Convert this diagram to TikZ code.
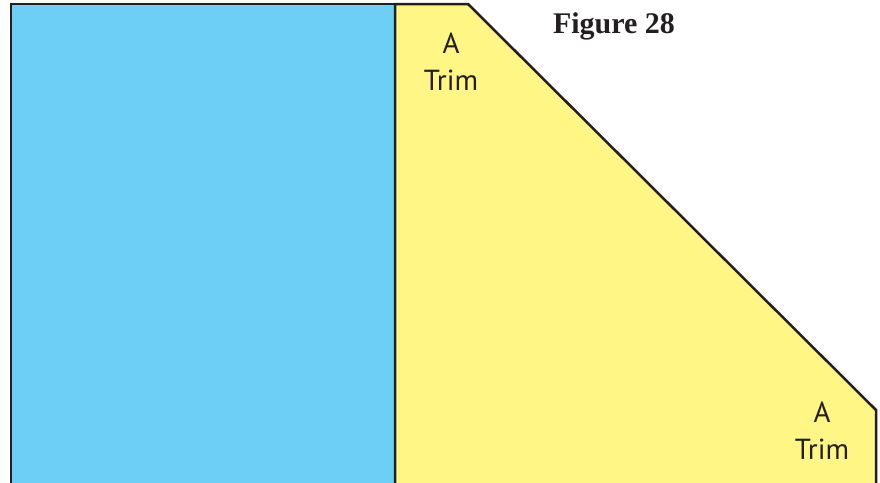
\documentclass[tikz,border=0pt]{standalone}
\usepackage{fontspec}
\setmainfont{Liberation Serif}
\newfontfamily\trimfont{PT Sans}
\usetikzlibrary{positioning}
\definecolor{outline}{HTML}{231F20}
\definecolor{sashing}{HTML}{6DCFF6}
\definecolor{trimfill}{HTML}{FFF685}

\begin{document}
\begin{tikzpicture}[x=1pt, y=-1pt,
      piece/.style={draw=outline, line width=2.5pt, line join=miter},
      trimlabel/.style={font=\trimfont\fontsize{29}{37}\selectfont, align=center,
                        text=outline, inner sep=0pt, anchor=north},
      caption/.style={font=\bfseries\fontsize{30}{36}\selectfont, text=outline,
                      inner sep=0pt, anchor=north}]
    \useasboundingbox (0,0) rectangle (880,482);
    \clip (0,0) rectangle (880,482);
    % center block and trimmed piece
    \filldraw[piece, fill=sashing] (11,4) rectangle (395,495);
    \filldraw[piece, fill=trimfill] (395,4) -- (468,4) -- (876,410) -- (876,495) -- (395,495) -- cycle;
    % labels
    \node[trimlabel] (trimtop) at (451,33) {A\\Trim};
    \node[trimlabel] (trimbottom) at (822,402) {A\\Trim};
    \node[caption] (figno) at (614,12) {Figure 28};
  \end{tikzpicture}
\end{document}
